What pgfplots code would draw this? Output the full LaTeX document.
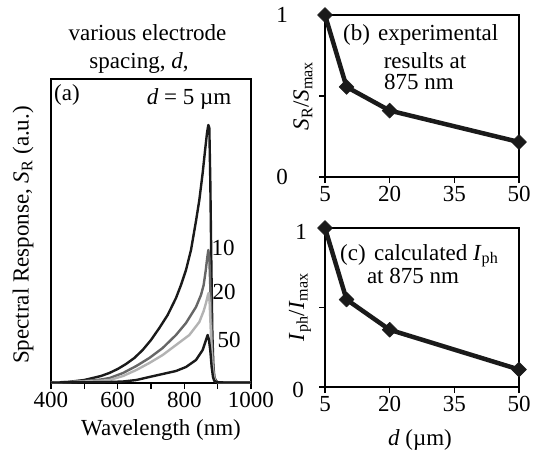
\documentclass[border=0pt]{standalone}
\usepackage{fontspec}
\setmainfont{Liberation Serif}
\usepackage{pgfplots}
\pgfplotsset{compat=1.18}
\definecolor{dk}{HTML}{1A1A1A}
\definecolor{md}{HTML}{666666}
\definecolor{lt}{HTML}{B3B3B3}
\begin{document}
\begin{tikzpicture}[x=1pt,y=1pt,font=\fontsize{23}{26}\selectfont]
\useasboundingbox (0,0) rectangle (536,451);
\pgfplotsset{panel/.style={
  scale only axis, anchor=south west, clip=false,
  tick pos=left, tick align=outside,
  major tick length=6pt, minor tick length=6pt,
  axis line style={line width=1.1pt},
  every tick/.style={black, line width=1.1pt},
  /pgf/number format/assume math mode=true,
  /pgf/number format/1000 sep={},
  ticklabel style={font=\fontsize{23}{26}\selectfont},
}}

% (a) spectral response
\begin{axis}[panel, at={(51pt,68pt)}, width=200pt, height=304pt,
  xmin=400, xmax=1000, ymin=0, ymax=304,
  xtick={400,600,800,1000}, minor xtick={500,700,900}, ytick=\empty,
  every axis plot/.append style={line width=2.4pt, line join=round}]
\addplot[dk] coordinates {
 (400,0.5)(420,0.5)(450,1)(475,2)(500,3)(525,5)(550,7)(575,10)(600,14)(625,19)
 (650,25)(675,33)(700,43)(725,55)(750,68)(775,85)(790,98)(805,113)(820,133)
 (835,162)(845,183)(855,210)(862,232)(868,250)(872,258)(875,255)(878,200)
 (881,120)(884,50)(887,18)(890,6)(895,2)(900,0.8)(920,0.5)(1000,0.5)};
\addplot[md] coordinates {
 (400,0.5)(450,1)(500,2)(550,3.5)(576,5)(616,10)(656,17)(695,25)(735,35)
 (775,48)(805,60)(835,76)(850,88)(858,98)(864,112)(869,126)(872,133)(875,125)
 (878,95)(881,60)(884,30)(888,10)(892,3)(900,0.8)(920,0.5)(1000,0.5)};
\addplot[lt] coordinates {
 (400,0.5)(450,0.8)(500,1.5)(550,2.3)(576,3)(616,7)(656,13)(695,20)(735,28)
 (775,38)(815,48)(845,61)(858,72)(865,80)(870,87)(873,90)(876,80)(879,55)
 (882,32)(885,16)(888,7)(892,2)(900,0.8)(920,0.5)(1000,0.5)};
\addplot[dk] coordinates {
 (400,0.5)(500,0.7)(575,1)(616,1.5)(656,3)(695,6)(735,9)(775,12)(805,16)
 (835,23)(855,33)(864,42)(870,48)(874,43)(878,32)(882,16)(886,6)(890,2)
 (900,0.8)(920,0.5)(1000,0.5)};
\end{axis}

% (b) experimental
\begin{axis}[panel, at={(325pt,274pt)}, width=194pt, height=162pt,
  xmin=5, xmax=50, ymin=0, ymax=1,
  xtick={5,20,35,50}, ytick={0,0.5,1}, yticklabels={},
  every axis plot/.append style={line width=4.5pt, line join=round}]
\addplot[dk, mark=square*, mark size=5.3pt, mark options={rotate=45, line width=0.5pt}]
 coordinates {(5,1)(10,0.556)(20,0.41)(50,0.216)};
\end{axis}

% (c) calculated
\begin{axis}[panel, at={(325pt,64pt)}, width=194pt, height=159pt,
  xmin=5, xmax=50, ymin=0, ymax=1,
  xtick={5,20,35,50}, ytick={0,0.5,1}, yticklabels={},
  every axis plot/.append style={line width=4.5pt, line join=round}]
\addplot[dk, mark=square*, mark size=5.3pt, mark options={rotate=45, line width=0.5pt}]
 coordinates {(5,1)(10,0.55)(20,0.36)(50,0.11)};
\end{axis}

% texts of (a)
\node at (147.5,418) {various electrode};
\node at (139,388) {spacing, \textit{d},};
\node at (23,216) [rotate=90] {Spectral Response, \textit{S}\textsubscript{R} (a.u.)};
\node at (161,21) {Wavelength (nm)};
\node at (67,356) {(a)};
\node at (189,352) {\textit{d} = 5 µm};
\node at (223,203) {10};
\node at (224,159) {20};
\node at (229,111) {50};

% texts of (b)
\node at (282,436) {1};
\node at (282,274) {0};
\node at (303,355) [rotate=90] {\textit{S}\textsubscript{R}/\textit{S}\textsubscript{max}};
\node[anchor=base west, inner sep=0pt] at (343,410.3) {(b)};
\node[anchor=base west, inner sep=0pt] at (378,410.3) {experimental};
\node[anchor=base, inner sep=0pt] at (425,382.7) {results at};
\node[anchor=base, inner sep=0pt] at (419,361.5) {875 nm};

% texts of (c)
\node at (301,219) {1};
\node at (298,61) {0};
\node at (300,144) [rotate=90] {\textit{I}\textsubscript{ph}/\textit{I}\textsubscript{max}};
\node[anchor=base west, inner sep=0pt] at (340,191) {(c)};
\node[anchor=base west, inner sep=0pt] at (374,191) {calculated \textit{I}\textsubscript{ph}};
\node[anchor=base, inner sep=0pt] at (413,167.7) {at 875 nm};
\node at (420,11) {\textit{d} (µm)};
\end{tikzpicture}
\end{document}
